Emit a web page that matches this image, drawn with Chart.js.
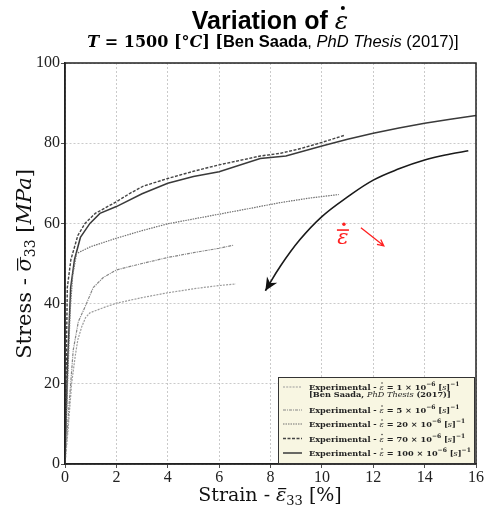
<!DOCTYPE html>
<html lang="en">
<head>
    <meta charset="UTF-8">
    <title>Variation of strain rate</title>
    <script src="https://cdn.jsdelivr.net/npm/chart.js"></script>
    <style>
        body { margin: 0; background: #fff; }
        #box { width: 485px; height: 509px; }
    </style>
</head>
<body>
<div id="box"><canvas id="myChartCanvas" width="485" height="509"></canvas></div>
<script>
    // curves (strain in %, stress in MPa)
    const strain1 = [0, 0.1, 0.26, 0.4, 0.5, 0.65, 0.8, 0.97, 1.5, 2, 3, 4, 5, 6, 6.65];
    const stress1 = [0, 7, 20.2, 27, 31, 34.2, 36.5, 37.7, 39, 40.1, 41.5, 42.7, 43.7, 44.5, 44.9];

    const strain5 = [0, 0.15, 0.32, 0.52, 0.78, 1.1, 1.49, 2, 3, 4, 5, 6, 6.58];
    const stress5 = [0, 14, 28.4, 35.5, 39.2, 44, 46.5, 48.4, 50, 51.5, 52.7, 53.8, 54.6];

    const strain20 = [0, 0.1, 0.2, 0.3, 0.45, 1, 2, 3, 4, 5, 6, 7, 8.4, 9.5, 10.66];
    const stress20 = [0, 20, 38, 47, 52.5, 54.2, 56.3, 58.2, 59.9, 61.1, 62.3, 63.5, 65.2, 66.3, 67.2];

    const strain70 = [0, 0.05, 0.09, 0.23, 0.5, 0.78, 1.18, 2, 2.53, 3.05, 4, 5, 6, 7.6, 8.4, 9.2, 10, 10.9];
    const stress70 = [0, 25, 44, 51, 57, 60, 62.5, 65.4, 67.5, 69.3, 71.2, 73, 74.6, 76.8, 77.5, 78.7, 80.2, 82];

    const strain100 = [0, 0.1, 0.22, 0.37, 0.6, 0.97, 1.36, 2, 3, 4, 5, 6, 7.6, 8.6, 10, 11, 12, 13, 14, 15, 16];
    const stress100 = [0, 25, 44, 51, 56.5, 60, 62.5, 64.2, 67.4, 70, 71.7, 72.9, 76.2, 76.8, 79.3, 81, 82.5, 83.8, 85, 86, 86.9];

    // big curved arrow (increasing strain rate)
    const arrowStrain = [15.7, 15, 14, 13, 12, 11, 10, 9.14, 8.37, 7.8];
    const arrowStress = [78.1, 77.3, 75.8, 73.6, 70.8, 66.6, 61.7, 55.9, 49.2, 43.2];

    const rates = ['1', '5', '20', '70', '100'];
    const xTicks = [0, 2, 4, 6, 8, 10, 12, 14, 16];
    const yTicks = [0, 20, 40, 60, 80, 100];

    function pares(xs, ys) {
        var out = [];
        for (var i = 0; i < xs.length; i++) out.push({ x: xs[i], y: ys[i] });
        return out;
    }

    const estilos = [
        { color: '#9c9c9c', dash: [2, 1.2], width: 1.2 },
        { color: '#858585', dash: [3, 1, 1, 1], width: 1.2 },
        { color: '#707070', dash: [1.5, 1], width: 1.2 },
        { color: '#444444', dash: [3, 1.5], width: 1.4 },
        { color: '#3a3a3a', dash: [], width: 1.5 }
    ];
    const curvas = [[strain1, stress1], [strain5, stress5], [strain20, stress20], [strain70, stress70], [strain100, stress100]];

    let datasets = [];
    for (let i = 0; i < curvas.length; i++) {
        datasets.push({
            label: 'Experimental - ε̇ = ' + rates[i] + ' × 10⁻⁶ [s]⁻¹',
            data: pares(curvas[i][0], curvas[i][1]),
            borderColor: estilos[i].color,
            borderDash: estilos[i].dash,
            borderWidth: estilos[i].width,
            showLine: true,
            pointRadius: 0,
            tension: 0
        });
    }
    datasets.push({
        label: 'arrow',
        data: pares(arrowStrain, arrowStress),
        borderColor: '#1a1a1a',
        borderWidth: 1.6,
        showLine: true,
        pointRadius: 0,
        tension: 0.4
    });

    function textoRico(ctx, partes, x, y, align) {
        let total = 0;
        partes.forEach(function (p) { ctx.font = p.font; total += ctx.measureText(p.t).width; });
        let cx = align === 'center' ? x - total / 2 : x;
        let inicio = cx;
        ctx.textAlign = 'left';
        ctx.textBaseline = 'alphabetic';
        partes.forEach(function (p) {
            ctx.font = p.font;
            ctx.fillText(p.t, cx, y + (p.dy || 0));
            if (p.bar) {
                let w = ctx.measureText(p.t).width;
                ctx.fillRect(cx + p.bar[0], y + p.bar[1], w * p.bar[2], 1.2);
            }
            if (p.dot) {
                let w = ctx.measureText(p.t).width;
                ctx.beginPath();
                ctx.arc(cx + w * p.dot[0], y + p.dot[1], p.dot[2], 0, Math.PI * 2);
                ctx.fill();
            }
            cx += ctx.measureText(p.t).width;
        });
        return inicio;
    }

    const extras = {
        id: 'extras',
        afterDraw: function (chart) {
            const ctx = chart.ctx;
            const a = chart.chartArea;
            const sx = chart.scales.x, sy = chart.scales.y;
            ctx.save();

            // frame
            ctx.strokeStyle = '#222';
            ctx.lineWidth = 1.5;
            ctx.strokeRect(a.left, a.top, a.right - a.left, a.bottom - a.top);

            // arrow head on the big curve
            const n = arrowStrain.length;
            const px = sx.getPixelForValue(arrowStrain[n - 1]), py = sy.getPixelForValue(arrowStress[n - 1]);
            const qx = sx.getPixelForValue(arrowStrain[n - 2]), qy = sy.getPixelForValue(arrowStress[n - 2]);
            const ang = Math.atan2(py - qy, px - qx);
            ctx.translate(px, py);
            ctx.rotate(ang);
            ctx.fillStyle = '#111';
            ctx.beginPath();
            ctx.moveTo(0, 0);
            ctx.lineTo(-13, -6);
            ctx.lineTo(-9, 0);
            ctx.lineTo(-13, 6);
            ctx.closePath();
            ctx.fill();
            ctx.setTransform(1, 0, 0, 1, 0, 0);

            // red epsilon-dot annotation
            ctx.fillStyle = '#ff2020';
            ctx.strokeStyle = '#ff2020';
            const ex = sx.getPixelForValue(10.82), ey = sy.getPixelForValue(54.8);
            ctx.font = 'italic 21px "DejaVu Serif"';
            ctx.textAlign = 'center';
            ctx.fillText('ε', ex, ey);
            ctx.fillRect(ex - 6, ey - 15, 12, 1.6);
            ctx.beginPath();
            ctx.arc(ex + 1, ey - 20, 1.7, 0, Math.PI * 2);
            ctx.fill();
            const r1x = sx.getPixelForValue(11.52), r1y = sy.getPixelForValue(58.9);
            const r2x = sx.getPixelForValue(12.41), r2y = sy.getPixelForValue(54.4);
            ctx.lineWidth = 1.3;
            ctx.beginPath();
            ctx.moveTo(r1x, r1y);
            ctx.lineTo(r2x, r2y);
            const ra = Math.atan2(r2y - r1y, r2x - r1x);
            ctx.moveTo(r2x - 7 * Math.cos(ra - 0.45), r2y - 7 * Math.sin(ra - 0.45));
            ctx.lineTo(r2x, r2y);
            ctx.lineTo(r2x - 7 * Math.cos(ra + 0.45), r2y - 7 * Math.sin(ra + 0.45));
            ctx.stroke();

            // legend box
            ctx.fillStyle = '#f8f6e2';
            ctx.fillRect(278, 377, 196, 86);
            ctx.strokeStyle = '#333';
            ctx.lineWidth = 1;
            ctx.strokeRect(278.5, 377.5, 196, 86);
            const filas = [387, 410, 424, 438.5, 453];
            const fb = 'bold 8.2px "DejaVu Serif"';
            const fi = 'italic 8.2px "DejaVu Serif"';
            const fs = 'bold 6px "DejaVu Serif"';
            for (let i = 0; i < 5; i++) {
                ctx.strokeStyle = estilos[i].color;
                ctx.lineWidth = estilos[i].width;
                ctx.setLineDash(estilos[i].dash);
                ctx.beginPath();
                ctx.moveTo(283, filas[i]);
                ctx.lineTo(302, filas[i]);
                ctx.stroke();
                ctx.setLineDash([]);
                ctx.fillStyle = '#222';
                textoRico(ctx, [
                    { t: 'Experimental - ', font: fb },
                    { t: 'ε', font: fi, dot: [0.55, -7, 0.7] },
                    { t: ' = ' + rates[i] + ' × 10', font: fb },
                    { t: '−6', font: fs, dy: -4 },
                    { t: ' [', font: fb },
                    { t: 's', font: fi },
                    { t: ']', font: fb },
                    { t: '−1', font: fs, dy: -4 }
                ], 309, filas[i] + 3, 'left');
            }
            textoRico(ctx, [
                { t: '[Ben Saada, ', font: fb },
                { t: 'PhD Thesis', font: fi },
                { t: ' (2017)]', font: fb }
            ], 309, 397, 'left');

            // titles
            ctx.fillStyle = '#000';
            textoRico(ctx, [
                { t: 'Variation of ', font: 'bold 25px "Liberation Sans"' },
                { t: 'ε', font: 'italic 25px "DejaVu Serif"', dot: [0.6, -21, 2] }
            ], 270, 29, 'center');

            textoRico(ctx, [
                { t: 'T', font: 'italic bold 16px "DejaVu Serif"' },
                { t: ' = 1500 [', font: 'bold 16px "DejaVu Serif"' },
                { t: '°', font: 'bold 16px "DejaVu Serif"' },
                { t: 'C', font: 'italic bold 16px "DejaVu Serif"' },
                { t: '] [', font: 'bold 16px "DejaVu Serif"' },
                { t: 'Ben Saada', font: 'bold 16.5px "Liberation Sans"' },
                { t: ', ', font: '16.5px "Liberation Sans"' },
                { t: 'PhD Thesis', font: 'italic 16.5px "Liberation Sans"' },
                { t: ' (2017)]', font: '16.5px "Liberation Sans"' }
            ], 273, 47, 'center');

            // axis titles
            ctx.fillStyle = '#111';
            textoRico(ctx, [
                { t: 'Strain - ', font: '19px "DejaVu Serif"' },
                { t: 'ε', font: 'italic 19px "DejaVu Serif"', bar: [2, -13, 0.8] },
                { t: '33', font: '13px "DejaVu Serif"', dy: 4 },
                { t: ' [%]', font: '19px "DejaVu Serif"' }
            ], 270, 501, 'center');

            ctx.translate(31, 264);
            ctx.rotate(-Math.PI / 2);
            textoRico(ctx, [
                { t: 'Stress - ', font: '21px "DejaVu Serif"' },
                { t: 'σ', font: 'italic 21px "DejaVu Serif"', bar: [1, -14, 0.85] },
                { t: '33', font: '14px "DejaVu Serif"', dy: 4 },
                { t: ' [', font: '21px "DejaVu Serif"' },
                { t: 'MPa', font: 'italic 21px "DejaVu Serif"' },
                { t: ']', font: '21px "DejaVu Serif"' }
            ], 0, 0, 'center');
            ctx.restore();
        }
    };

    const config = {
        type: 'scatter',
        data: { datasets: datasets },
        options: {
            responsive: false,
            animation: false,
            layout: { padding: { top: 63, right: 9, left: 0, bottom: 0 } },
            plugins: { legend: { display: false }, tooltip: { enabled: false } },
            scales: {
                x: {
                    type: 'linear', min: 0, max: 16,
                    afterFit: function (s) { s.height = 45; },
                    afterBuildTicks: function (s) { s.ticks = xTicks.map(function (v) { return { value: v }; }); },
                    ticks: { padding: 0, color: '#222', font: { family: 'Liberation Serif', size: 16 } },
                    grid: { color: '#bdbdbd', lineWidth: 0.8, tickLength: 4, tickColor: '#222', tickBorderDash: [] },
                    border: { display: true, color: '#222', width: 1.5, dash: [2, 2] }
                },
                y: {
                    type: 'linear', min: 0, max: 100,
                    afterFit: function (s) { s.width = 65; },
                    afterBuildTicks: function (s) { s.ticks = yTicks.map(function (v) { return { value: v }; }); },
                    ticks: { padding: 1, color: '#222', font: { family: 'Liberation Serif', size: 16 } },
                    grid: { color: '#bdbdbd', lineWidth: 0.8, tickLength: 4, tickColor: '#222', tickBorderDash: [] },
                    border: { display: true, color: '#222', width: 1.5, dash: [2, 2] }
                }
            }
        },
        plugins: [extras]
    };

    let myChart = new Chart(document.getElementById('myChartCanvas'), config);
</script>
</body>
</html>
